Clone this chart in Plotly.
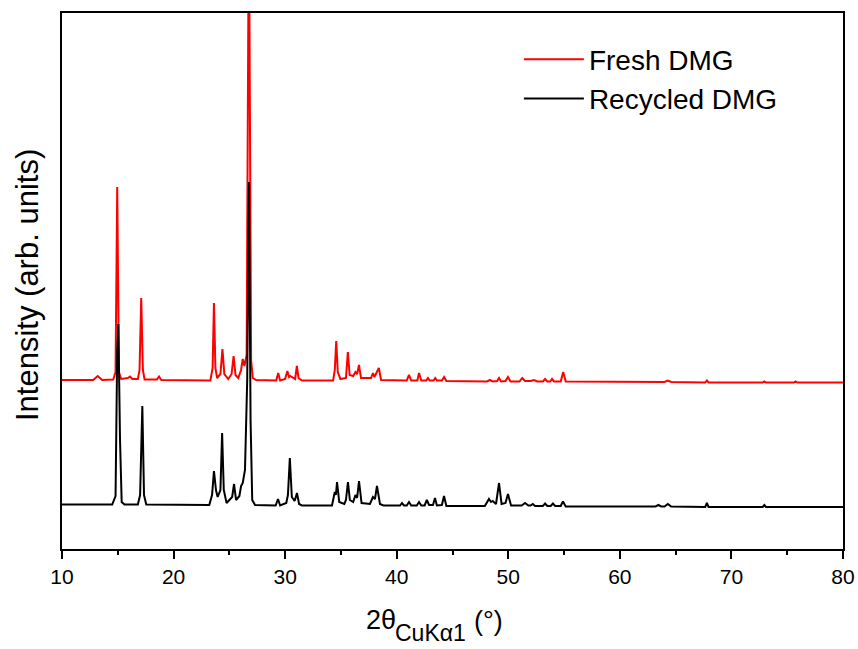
import plotly.graph_objects as go

# Powder XRD patterns (2theta in degrees, intensity in arbitrary counts, vertically offset)
fresh_2theta = [
    10.0, 12.8, 13.2, 13.6, 14.6, 14.8, 14.95, 15.1, 15.3, 15.9, 16.1, 16.3,
    16.8, 16.95, 17.1, 17.25, 17.4, 18.5, 18.7, 18.9, 23.3, 23.5, 23.62, 23.75,
    23.9, 24.2, 24.38, 24.55, 24.9, 25.2, 25.38, 25.55, 25.8, 26.05, 26.2, 26.35,
    26.55, 26.75, 26.95, 27.1, 27.4, 29.2, 29.38, 29.55, 30.0, 30.2, 30.35, 30.45,
    30.9, 31.05, 31.2, 31.5, 34.3, 34.45, 34.58, 34.72, 34.95, 35.45, 35.62, 35.78,
    36.1, 36.3, 36.45, 36.62, 36.8, 37.7, 37.87, 38.0, 38.4, 38.6, 40.9, 41.1,
    41.3, 41.85, 42.0, 42.2, 42.65, 42.8, 42.95, 43.3, 43.45, 43.6, 44.05, 44.25,
    44.45, 48.1, 48.35, 48.6, 49.0, 49.17, 49.35, 49.75, 49.97, 50.2, 51.0, 51.25,
    51.5, 52.0, 52.3, 52.6, 53.1, 53.3, 53.5, 53.75, 53.92, 54.1, 54.7, 54.92,
    55.15, 60.0, 64.0, 64.3, 64.6, 67.65, 67.8, 67.95, 72.8, 72.95, 73.1, 75.6,
    75.75, 75.9, 80.0,
]
fresh_counts = [
    3380, 3380, 3460, 3380, 3390, 3540, 7240, 3540, 3400, 3420, 3450, 3400,
    3400, 3580, 5020, 3580, 3390, 3390, 3450, 3380, 3370, 3620, 4920, 3620,
    3420, 3500, 4000, 3500, 3400, 3500, 3860, 3480, 3420, 3580, 3800, 3660,
    3880, 12980, 3780, 3420, 3380, 3370, 3520, 3370, 3400, 3560, 3440, 3460,
    3400, 3660, 3420, 3370, 3370, 3580, 4160, 3540, 3400, 3420, 3940, 3480,
    3460, 3540, 3500, 3680, 3420, 3420, 3520, 3440, 3620, 3380, 3370, 3480,
    3370, 3370, 3520, 3370, 3370, 3420, 3370, 3370, 3420, 3370, 3370, 3440,
    3360, 3350, 3380, 3350, 3360, 3420, 3350, 3360, 3440, 3350, 3350, 3420,
    3360, 3360, 3380, 3350, 3350, 3400, 3350, 3350, 3400, 3350, 3350, 3540,
    3350, 3340, 3340, 3370, 3340, 3330, 3370, 3330, 3330, 3350, 3330, 3330,
    3350, 3330, 3330,
]

recycled_2theta = [
    10.0, 14.5, 14.8, 14.95, 15.05, 15.2, 15.35, 15.6, 16.8, 17.0, 17.2, 17.35,
    17.55, 23.2, 23.45, 23.62, 23.8, 23.95, 24.2, 24.35, 24.5, 24.75, 25.25, 25.42,
    25.6, 25.9, 26.05, 26.2, 26.4, 26.6, 26.76, 26.9, 27.05, 27.3, 29.15, 29.36,
    29.55, 30.1, 30.25, 30.42, 30.6, 30.85, 31.06, 31.25, 31.5, 34.2, 34.45, 34.55,
    34.65, 34.85, 35.3, 35.45, 35.63, 35.8, 36.1, 36.3, 36.45, 36.62, 36.85, 37.6,
    37.87, 38.05, 38.23, 38.5, 38.8, 40.3, 40.47, 40.65, 40.9, 41.1, 41.3, 41.8,
    42.0, 42.2, 42.5, 42.7, 42.9, 43.25, 43.43, 43.6, 44.05, 44.24, 44.45, 47.9,
    48.27, 48.45, 48.6, 48.9, 49.17, 49.4, 49.75, 49.97, 50.25, 51.2, 51.5, 51.8,
    52.0, 52.2, 52.4, 53.1, 53.3, 53.5, 53.8, 54.0, 54.2, 54.7, 54.9, 55.15,
    60.0, 63.2, 63.45, 63.7, 64.0, 64.3, 64.6, 67.65, 67.8, 67.95, 72.8, 72.95,
    73.1, 80.0,
]
recycled_counts = [
    890, 890, 1060, 3980, 4500, 2180, 940, 890, 890, 1080, 2860, 1080,
    890, 880, 1080, 1560, 1180, 1040, 1180, 2320, 1180, 920, 1040, 1300,
    980, 1060, 1260, 1320, 1580, 3380, 7340, 2580, 980, 880, 870, 1000,
    870, 920, 1080, 1820, 1040, 960, 1120, 900, 870, 870, 1140, 1080,
    1340, 940, 900, 980, 1340, 980, 940, 1080, 1020, 1360, 920, 900,
    1040, 1000, 1260, 900, 870, 870, 920, 870, 870, 940, 870, 870,
    940, 870, 870, 980, 880, 880, 1020, 870, 880, 1060, 860, 860,
    1000, 940, 960, 900, 1320, 900, 920, 1100, 870, 870, 920, 870,
    870, 900, 860, 860, 910, 860, 860, 910, 860, 860, 950, 850,
    850, 850, 880, 850, 850, 900, 850, 840, 920, 840, 840, 880,
    840, 840,
]

series_names = ["Fresh DMG", "Recycled DMG"]
x_ticks = [10, 20, 30, 40, 50, 60, 70, 80]

FONT = "Liberation Sans, Arial, sans-serif"

# plot area in pixels: left 62, right 843, top 13, bottom 549
PL, PR, PT, PB = 62, 843, 13, 549


def px_x(p):
    return (p - PL) / (PR - PL)


def px_y(p):
    return (PB - p) / (PB - PT)


fig = go.Figure()
fig.add_trace(go.Scatter(
    x=fresh_2theta, y=fresh_counts, mode="lines", name=series_names[0],
    line=dict(color="#ff0000", width=2), legendgroup="fresh",
))
fig.add_trace(go.Scatter(
    x=recycled_2theta, y=recycled_counts, mode="lines", name=series_names[1],
    line=dict(color="#000000", width=2), legendgroup="recycled",
))

# x-axis title pieces: 2θ, subscript CuKα1, (°)
title_parts = [
    dict(text="2θ", x=364, y=620, size=27),
    dict(text="CuKα1", x=393, y=633, size=23),
    dict(text="(°)", x=472, y=621, size=27),
]
annotations = [
    dict(text=p["text"], xref="paper", yref="paper", x=px_x(p["x"]), y=px_y(p["y"]),
         xanchor="left", yanchor="middle", showarrow=False,
         font=dict(size=p["size"], family=FONT, color="black"))
    for p in title_parts
]
annotations.append(dict(
    text="Intensity (arb. units)", textangle=-90,
    xref="paper", yref="paper", x=px_x(27), y=px_y(285),
    xanchor="center", yanchor="middle", showarrow=False,
    font=dict(size=31, family=FONT, color="black"),
))

fig.update_layout(
    width=858, height=649,
    margin=dict(l=PL, r=858 - PR, t=PT, b=649 - PB, autoexpand=False),
    paper_bgcolor="white", plot_bgcolor="white",
    font=dict(family=FONT, color="black"),
    showlegend=True,
    legend=dict(
        x=0.585, y=0.96, xanchor="left", yanchor="top",
        font=dict(size=28, family=FONT), bgcolor="rgba(0,0,0,0)",
        itemwidth=60, tracegroupgap=0,
    ),
    xaxis=dict(
        range=[10, 80], tickmode="array", tickvals=x_ticks,
        ticks="outside", ticklen=8, tickwidth=1.5, tickcolor="black",
        minor=dict(dtick=5, tick0=10, ticks="outside", ticklen=4, tickwidth=1.5, tickcolor="black"),
        showline=True, linecolor="black", linewidth=1.5, mirror=True,
        showgrid=False, zeroline=False, automargin=False,
        tickfont=dict(size=21, family=FONT),
    ),
    yaxis=dict(
        range=[0, 10720], showticklabels=False, ticks="",
        showline=True, linecolor="black", linewidth=1.5, mirror=True,
        showgrid=False, zeroline=False, automargin=False,
    ),
    annotations=annotations,
)

fig.write_html("out.html")
